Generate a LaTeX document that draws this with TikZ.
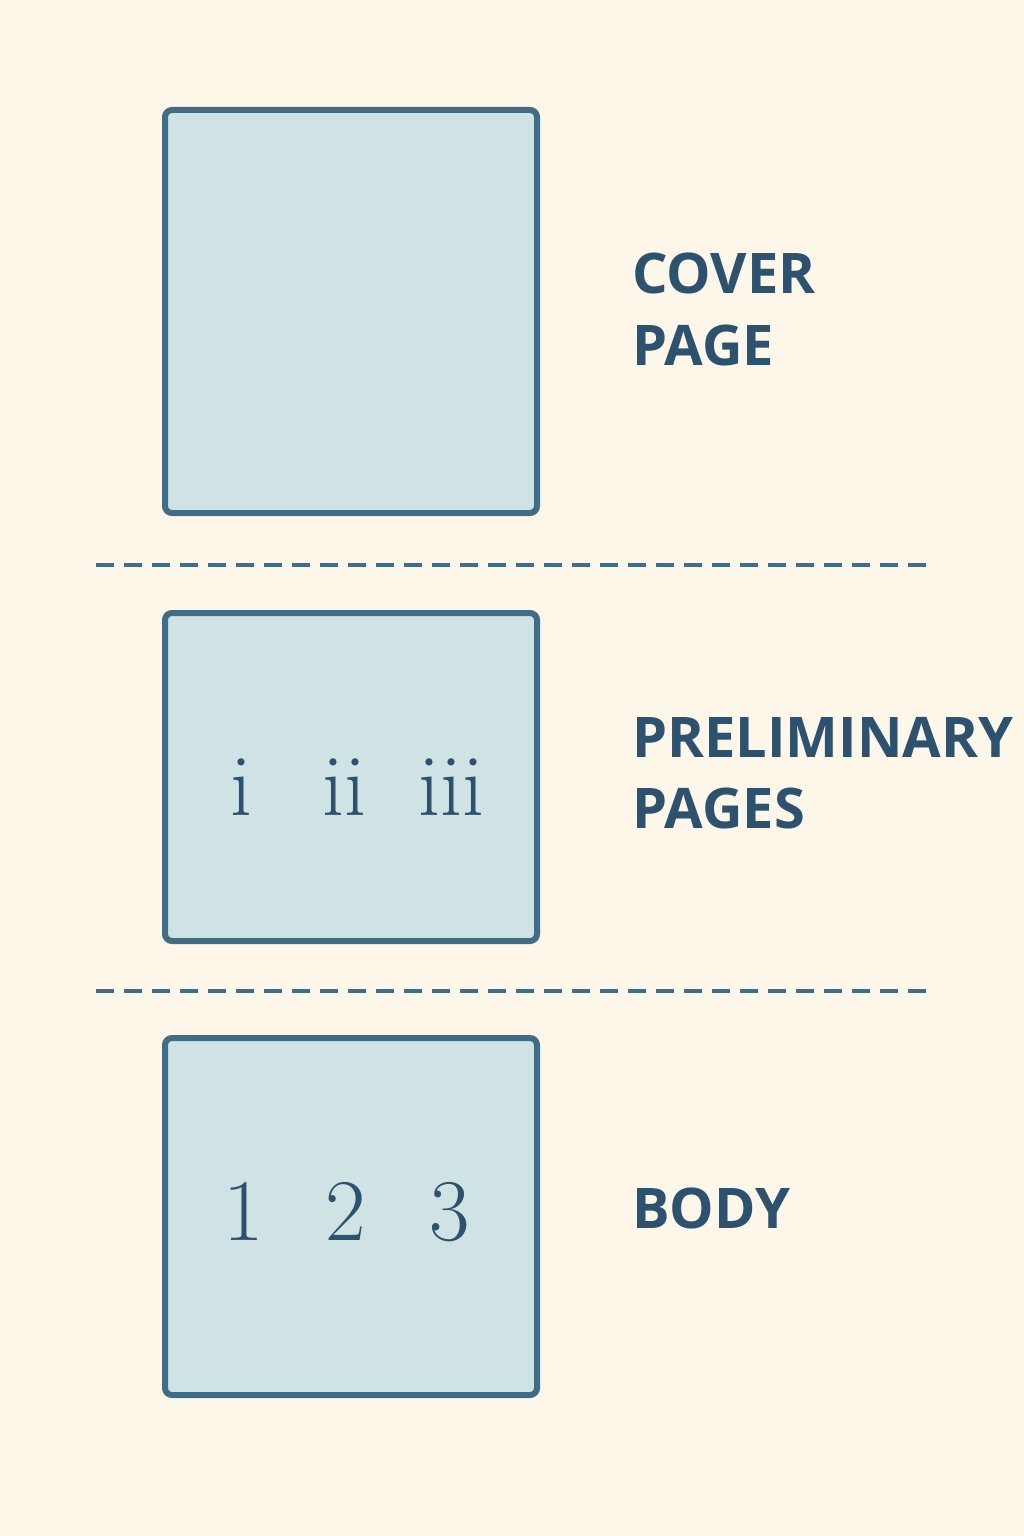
\documentclass[tikz,border=0pt]{standalone}
\usepackage{fontspec}
\newfontfamily\lab{Open Sans}
\definecolor{bg}{HTML}{FDF7E9}
\definecolor{pagefill}{HTML}{D0E3E4}
\definecolor{edge}{HTML}{3F6C86}
\definecolor{ink}{HTML}{2C5270}
\begin{document}
\begin{tikzpicture}[x=1pt,y=-1pt,
  page/.style={draw=edge,fill=pagefill,line width=6pt,rounded corners=7pt},
  sep/.style={draw=edge,line width=4.5pt,dash pattern=on 18pt off 10pt},
  lbl/.style={anchor=west,text=ink,font=\lab\bfseries\fontsize{56}{60}\selectfont,inner sep=0pt},
  num/.style={text=ink,font=\fontsize{88}{90}\selectfont,inner sep=0pt}]
\fill[bg] (0,0) rectangle (1024,1536);
\useasboundingbox (0,0) rectangle (1024,1536);
\draw[page] (165,110) rectangle (537,513);
\draw[page] (165,613) rectangle (537,941);
\draw[page] (165,1038) rectangle (537,1395);
\coordinate (s1a) at (96,565); \coordinate (s1b) at (932,565);
\coordinate (s2a) at (96,991); \coordinate (s2b) at (932,991);
\draw[sep] (s1a) -- (s1b);
\draw[sep] (s2a) -- (s2b);
\node[lbl] (c1) at (632,273) {COVER};
\node[lbl] (c2) at (632,345) {PAGE};
\node[lbl] (p1) at (632,737) {PRELIMINARY};
\node[lbl] (p2) at (632,808) {PAGES};
\node[lbl] (b1) at (632,1208) {BODY};
\node[num,anchor=base] (r1) at (241,815) {i};
\node[num,anchor=base] (r2) at (344,815) {ii};
\node[num,anchor=base] (r3) at (451,815) {iii};
\node[num,anchor=base] (n1) at (244,1240) {1};
\node[num,anchor=base] (n2) at (346,1240) {2};
\node[num,anchor=base] (n3) at (450,1240) {3};
\end{tikzpicture}
\end{document}
